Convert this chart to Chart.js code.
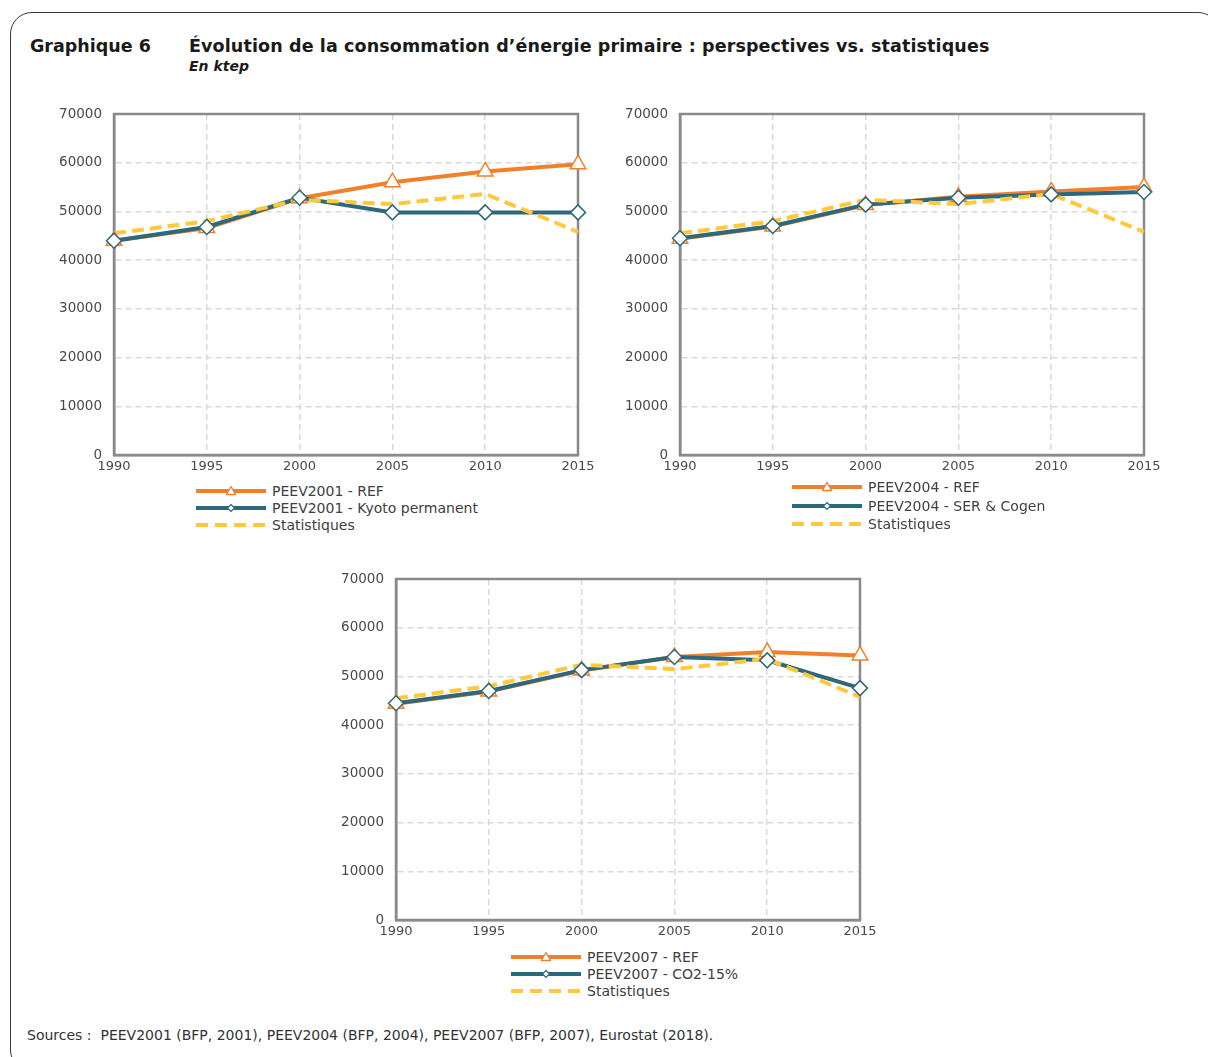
<!DOCTYPE html>
<html lang="fr">
<head>
<meta charset="utf-8">
<title>Graphique 6</title>
<script src="https://cdn.jsdelivr.net/npm/chart.js@4/dist/chart.umd.min.js"></script>
<style>
  html, body { margin: 0; padding: 0; background: #fff; }
  body { width: 1208px; height: 1057px; position: relative; overflow: hidden; font-family: "DejaVu Sans", sans-serif; }
  .frame { position: absolute; left: 10px; top: 12px; width: 1210px; height: 1060px; border: 1px solid #3a3a3a; border-radius: 22px; box-sizing: border-box; }
  .title { position: absolute; top: 36px; font-weight: bold; font-size: 17.5px; color: #1a1a1a; white-space: nowrap; }
  .subtitle { position: absolute; left: 189px; top: 58px; font-weight: bold; font-style: italic; font-size: 14px; color: #1a1a1a; }
  .box { position: absolute; }
  .legend { position: absolute; font-size: 14px; color: #404040; }
  .legend .row { display: flex; align-items: center; white-space: nowrap; }
  .legend svg { margin-right: 6px; flex: none; }
  .sources { position: absolute; left: 27px; top: 1027px; font-size: 14px; color: #333; white-space: nowrap; }
</style>
</head>
<body>
<div class="frame"></div>
<div class="title" style="left:30px">Graphique 6</div>
<div class="title" style="left:189px;letter-spacing:0.12px">Évolution de la consommation d’énergie primaire : perspectives vs. statistiques</div>
<div class="subtitle">En ktep</div>

<div class="box" style="left:40px;top:100px"><canvas id="c1" width="570" height="380"></canvas></div>
<div class="box" style="left:606px;top:100px"><canvas id="c2" width="570" height="380"></canvas></div>
<div class="box" style="left:322px;top:565px"><canvas id="c3" width="570" height="380"></canvas></div>

<div class="legend" id="l1" style="left:196px;top:482px"></div>
<div class="legend" id="l2" style="left:792px;top:478px"></div>
<div class="legend" id="l3" style="left:511px;top:948px"></div>

<div class="sources">Sources :&nbsp; PEEV2001 (BFP, 2001), PEEV2004 (BFP, 2004), PEEV2007 (BFP, 2007), Eurostat (2018).</div>

<script>
// années et valeurs (ktep)
const years = ['1990', '1995', '2000', '2005', '2010', '2015'];
const statistiques = [45500, 48000, 52400, 51500, 53600, 45800];

const peev2001Ref = [44000, 46600, 52700, 56000, 58200, 59700];
const peev2001Kyoto = [44000, 46800, 52800, 49800, 49800, 49800];

const peev2004Ref = [44400, 46900, 51300, 53000, 54100, 55000];
const peev2004Ser = [44500, 47000, 51400, 52800, 53500, 54000];

const peev2007Ref = [44400, 46900, 51200, 54000, 55000, 54300];
const peev2007Co2 = [44500, 47000, 51300, 54000, 53300, 47600];

const yMax = 70000;
const yStep = 10000;

const ORANGE = '#F0802A';
const TEAL = '#2E687C';
const YELLOW = '#FFC83D';
const AXIS = '#8A8A8A';
const GRID = '#D9D9D9';
const TICK = '#4A4A4A';

// cadre plein autour de la zone de tracé (haut et droite compris)
const framePlugin = {
    id: 'plotFrame',
    beforeDatasetsDraw(chart) {
        const a = chart.chartArea;
        const ctx = chart.ctx;
        ctx.save();
        ctx.strokeStyle = AXIS;
        ctx.lineWidth = 2.5;
        ctx.strokeRect(a.left, a.top, a.right - a.left, a.bottom - a.top);
        ctx.restore();
    }
};

function makeChart(id, refData, altData) {
    const ctx = document.getElementById(id).getContext('2d');
    return new Chart(ctx, {
        type: 'line',
        data: {
            labels: years,
            datasets: [
                // lignes d'abord, marqueurs par-dessus
                { data: refData, borderColor: ORANGE, borderWidth: 4, pointRadius: 0, order: 5 },
                { data: altData, borderColor: TEAL, borderWidth: 4, pointRadius: 0, order: 4 },
                { data: statistiques, borderColor: YELLOW, borderWidth: 4, borderDash: [12, 6], pointRadius: 0, order: 3 },
                { data: refData, showLine: false, pointStyle: 'triangle', pointRadius: 9,
                  pointBackgroundColor: '#fff', pointBorderColor: ORANGE, pointBorderWidth: 1.5, order: 2 },
                { data: altData, showLine: false, pointStyle: 'rectRot', pointRadius: 7.5,
                  pointBackgroundColor: '#fff', pointBorderColor: TEAL, pointBorderWidth: 1.5, order: 1 }
            ]
        },
        options: {
            responsive: false,
            animation: false,
            layout: { padding: { top: 14, right: 32, left: 0, bottom: 0 } },
            plugins: { legend: { display: false }, tooltip: { enabled: false } },
            elements: { line: { tension: 0, borderCapStyle: 'butt' } },
            scales: {
                x: {
                    offset: false,
                    grid: { color: GRID, lineWidth: 1.5, drawTicks: false },
                    border: { color: AXIS, width: 2.5, dash: [6, 4] },
                    ticks: { color: TICK, font: { family: 'DejaVu Sans', size: 13 }, padding: 4, maxRotation: 0, autoSkip: false },
                    afterFit(scale) { scale.height = 25; }
                },
                y: {
                    min: 0,
                    max: yMax,
                    grid: { color: GRID, lineWidth: 1.5, drawTicks: false },
                    border: { color: AXIS, width: 2.5, dash: [6, 4] },
                    ticks: { stepSize: yStep, color: TICK, font: { family: 'DejaVu Sans', size: 13.5 }, padding: 12,
                             callback: v => String(v) },
                    afterFit(scale) {
                        scale.width = 74;
                        scale.paddingTop = 0;
                        scale.paddingBottom = 0;
                    }
                }
            }
        },
        plugins: [framePlugin]
    });
}

// légende : trait + marqueur, puis libellé
function legendSymbol(kind) {
    if (kind === 'ref') {
        return '<svg width="70" height="12"><line x1="0" y1="6" x2="70" y2="6" stroke="' + ORANGE + '" stroke-width="4"/>' +
            '<polygon points="35,1.5 39.5,9.5 30.5,9.5" fill="#fff" stroke="' + ORANGE + '" stroke-width="1.3"/></svg>';
    }
    if (kind === 'alt') {
        return '<svg width="70" height="12"><line x1="0" y1="6" x2="70" y2="6" stroke="' + TEAL + '" stroke-width="4"/>' +
            '<polygon points="35,2.5 38.5,6 35,9.5 31.5,6" fill="#fff" stroke="' + TEAL + '" stroke-width="1.2"/></svg>';
    }
    return '<svg width="70" height="12"><line x1="0" y1="6" x2="70" y2="6" stroke="' + YELLOW + '" stroke-width="4" stroke-dasharray="12 7"/></svg>';
}

function makeLegend(id, labels, rowHeight) {
    const el = document.getElementById(id);
    const kinds = ['ref', 'alt', 'stat'];
    el.innerHTML = labels.map((t, i) =>
        '<div class="row" style="height:' + rowHeight + 'px">' + legendSymbol(kinds[i]) + '<span>' + t + '</span></div>'
    ).join('');
}

makeChart('c1', peev2001Ref, peev2001Kyoto);
makeChart('c2', peev2004Ref, peev2004Ser);
makeChart('c3', peev2007Ref, peev2007Co2);

makeLegend('l1', ['PEEV2001 - REF', 'PEEV2001 - Kyoto permanent', 'Statistiques'], 17);
makeLegend('l2', ['PEEV2004 - REF', 'PEEV2004 - SER &amp; Cogen', 'Statistiques'], 18.5);
makeLegend('l3', ['PEEV2007 - REF', 'PEEV2007 - CO2-15%', 'Statistiques'], 17);
</script>
</body>
</html>
